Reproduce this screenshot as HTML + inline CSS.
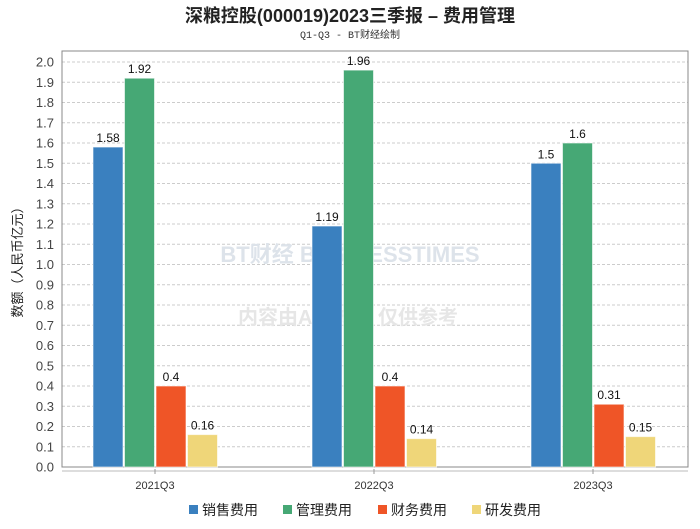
<!DOCTYPE html>
<html><head><meta charset="utf-8"><style>
body{margin:0;background:#fff;width:700px;height:524px;overflow:hidden;font-family:"Liberation Sans","Noto Sans CJK SC",sans-serif}
</style></head><body>
<svg width="700" height="524" xmlns="http://www.w3.org/2000/svg">
<text x="350" y="22" text-anchor="middle" font-size="18" font-weight="bold" fill="#222" font-family="Liberation Sans,Noto Sans CJK SC,sans-serif">深粮控股(000019)2023三季报 – 费用管理</text>
<text x="350" y="38" text-anchor="middle" font-size="10" fill="#333" font-family="Liberation Mono,Noto Sans CJK SC,monospace">Q1-Q3 - BT财经绘制</text>
<g id="grid"></g>
<rect x="62" y="51" width="626" height="416" fill="none" stroke="#888"/>
<line x1="62" y1="471" x2="688" y2="471" stroke="#bbb"/>
<text x="350" y="262" text-anchor="middle" font-size="22" font-weight="bold" fill="#dde3ea">BT财经 BUSINESSTIMES</text>
<text x="348" y="324" text-anchor="middle" font-size="20" font-weight="bold" fill="#e6e6e6">内容由AI生成，仅供参考</text>
<text transform="translate(22,259) rotate(-90)" text-anchor="middle" font-size="13" fill="#222">数额（人民币亿元）</text>
<g id="bars"></g>
<g id="legend"></g>
</svg>
<script>
const categories=["2021Q3","2022Q3","2023Q3"];
const seriesNames=["销售费用","管理费用","财务费用","研发费用"];
const sales=[1.58,1.19,1.5];
const admin=[1.92,1.96,1.6];
const finance=[0.4,0.4,0.31];
const rnd=[0.16,0.14,0.15];
const valueLabels=[["1.58","1.19","1.5"],["1.92","1.96","1.6"],["0.4","0.4","0.31"],["0.16","0.14","0.15"]];
const yTicks=[0,0.1,0.2,0.3,0.4,0.5,0.6,0.7,0.8,0.9,1.0,1.1,1.2,1.3,1.4,1.5,1.6,1.7,1.8,1.9,2.0];
const colors=["#3a80bf","#46a875","#ef5527","#efd679"];
const ns="http://www.w3.org/2000/svg";
const y=v=>467-v*202.5;
const x=i=>155+i*219;
function mk(t,a,p){const e=document.createElementNS(ns,t);for(const k in a)e.setAttribute(k,a[k]);p.appendChild(e);return e;}
const grid=document.getElementById('grid');
yTicks.forEach(t=>{
 const l=mk('line',{x1:62,x2:688,y1:y(t),y2:y(t),stroke:'#ccc','stroke-dasharray':'3,2'},grid);
 
 
 const tx=mk('text',{x:54,y:y(t)+4.5,'text-anchor':'end','font-size':13,fill:'#444'},grid);
 tx.textContent=t.toFixed(1);
 
 
});
const bars=document.getElementById('bars');
const all=[sales,admin,finance,rnd];
categories.forEach((c,i)=>{
 all.forEach((s,j)=>{
  const bx=x(i)-62+j*31.5;
  const r=mk('rect',{x:bx,y:y(s[i]),width:30,height:467-y(s[i]),fill:colors[j],stroke:'#fff','stroke-opacity':0.6},bars);
  
  
  const t=mk('text',{x:bx+15,y:y(s[i])-5,'text-anchor':'middle','font-size':12,fill:'#111'},bars);
  t.textContent=valueLabels[j][i];
  
  
 });
 const tk=mk('line',{x1:x(i),x2:x(i),y1:469,y2:474,stroke:'#999'},bars);
 
 
 const xt=mk('text',{x:x(i),y:489,'text-anchor':'middle','font-size':11,fill:'#333'},bars);
 xt.textContent=c;
 
 
});
const lg=document.getElementById('legend');
const lx=[189,283,378,472];
seriesNames.forEach((n,j)=>{
 const r=mk('rect',{x:lx[j],y:505,width:9,height:9,fill:colors[j]},lg);
 
 
 const t=mk('text',{x:lx[j]+13,y:515,'font-size':14,fill:'#222'},lg);
 t.textContent=n;
 
 
});
</script>
</body></html>
